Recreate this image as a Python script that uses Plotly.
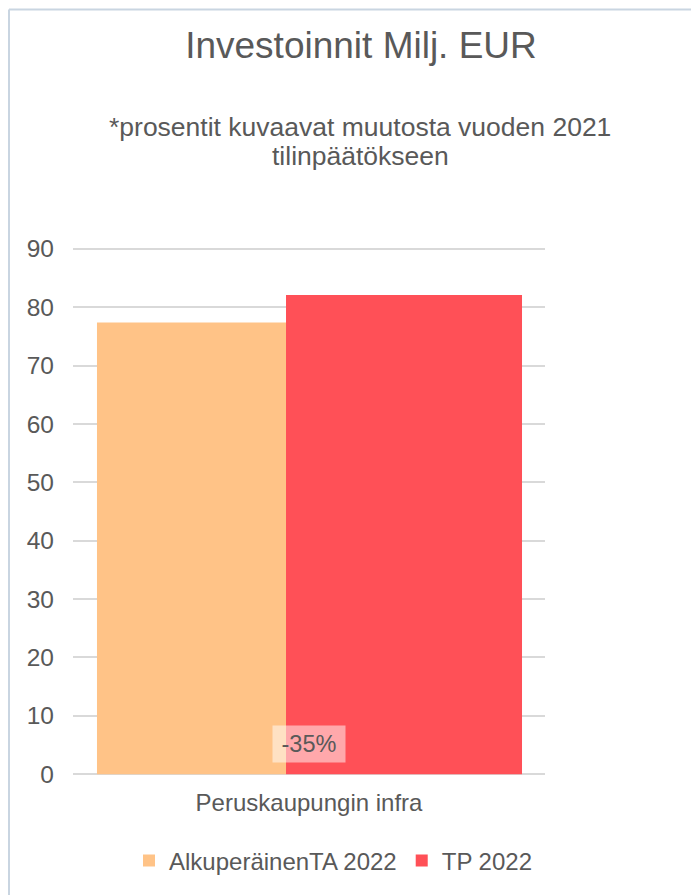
import plotly.graph_objects as go

categories = ["Peruskaupungin infra"]
series_names = ["AlkuperäinenTA 2022", "TP 2022"]
ta_2022 = [77.4]
tp_2022 = [82.1]
change_labels = ["-35%"]
subtitle_lines = ["*prosentit kuvaavat muutosta vuoden 2021", "tilinpäätökseen"]
y_ticks = [0, 10, 20, 30, 40, 50, 60, 70, 80, 90]

text_color = "#595959"
font_family = "Liberation Sans, Arial, sans-serif"
colors = {'ta': '#FFC387', 'tp': '#FF5057', 'grid': '#D9D9D9', 'frame': '#C9D5E1'}

# page has an 8px body margin, so the figure is a bit smaller than the window
W, H = 691, 887
Y_MIN, Y_MAX, PAD = 0, 90, 1            # pad so the 0 and 90 gridlines are drawn
TOP0, BOT0 = 241, 768                   # pixel rows of 90 and 0
unit = (BOT0 - TOP0) / (Y_MAX - Y_MIN)
PL, PR = 65, 537
PT, PB = TOP0 - PAD * unit, BOT0 + PAD * unit


def px_x(x):
    return (x - PL) / (PR - PL)


def px_y(y):
    return (PB - y) / (PB - PT)


fig = go.Figure()
fig.add_trace(go.Bar(
    x=categories, y=ta_2022, name=series_names[0],
    marker_color=colors['ta'], marker_line_width=0,
    offset=-0.4492, width=0.4005,
))
fig.add_trace(go.Bar(
    x=categories, y=tp_2022, name=series_names[1],
    marker_color=colors['tp'], marker_line_width=0,
    offset=-0.0487, width=0.5,
))

# data label for the change percentage
fig.add_annotation(
    x=categories[0], y=5.2, text=change_labels[0], showarrow=False,
    font=dict(size=23.5, color=text_color, family=font_family),
    bgcolor="rgba(255,255,255,0.5)", width=64, height=28, borderpad=4,
)

# subtitle, two tight lines
for line, yc in zip(subtitle_lines, [119, 148]):
    fig.add_annotation(
        xref="paper", yref="paper", x=px_x(352), y=px_y(yc),
        text=line, showarrow=False, xanchor="center", yanchor="middle",
        font=dict(size=26.5, color=text_color, family=font_family),
    )

# chart frame (left and top edges visible)
fig.add_shape(type="line", xref="paper", yref="paper",
              x0=px_x(1), x1=px_x(W + 10), y0=px_y(1), y1=px_y(1),
              line=dict(color=colors['frame'], width=2))
fig.add_shape(type="line", xref="paper", yref="paper",
              x0=px_x(1), x1=px_x(1), y0=px_y(1), y1=px_y(H + 10),
              line=dict(color=colors['frame'], width=2))

fig.update_layout(
    width=W, height=H,
    margin=dict(l=PL, r=W - PR, t=PT, b=H - PB),
    paper_bgcolor="white", plot_bgcolor="white",
    barmode="overlay",
    font=dict(family=font_family, color=text_color, size=24),
    title=dict(text="Investoinnit Milj. EUR", x=353 / W, xanchor="center",
               y=1 - 37 / H, yanchor="middle",
               font=dict(size=37, color=text_color, family=font_family)),
    showlegend=True,
    legend=dict(orientation="h", x=px_x(121), xanchor="left",
                y=px_y(855), yanchor="middle",
                font=dict(size=24, color=text_color), traceorder="normal"),
)
fig.update_xaxes(range=[-0.5, 0.5], showgrid=False, showline=False, zeroline=False,
                 ticks="", ticklabelstandoff=round(12 - PAD * unit),
                 tickfont=dict(size=24, color=text_color))
fig.update_yaxes(range=[Y_MIN - PAD, Y_MAX + PAD], tickvals=y_ticks, showgrid=True,
                 gridcolor=colors['grid'], gridwidth=1.5, zeroline=False, showline=False,
                 ticks="", ticklabelstandoff=18, tickfont=dict(size=24.5, color=text_color))

fig.write_html("out.html")
